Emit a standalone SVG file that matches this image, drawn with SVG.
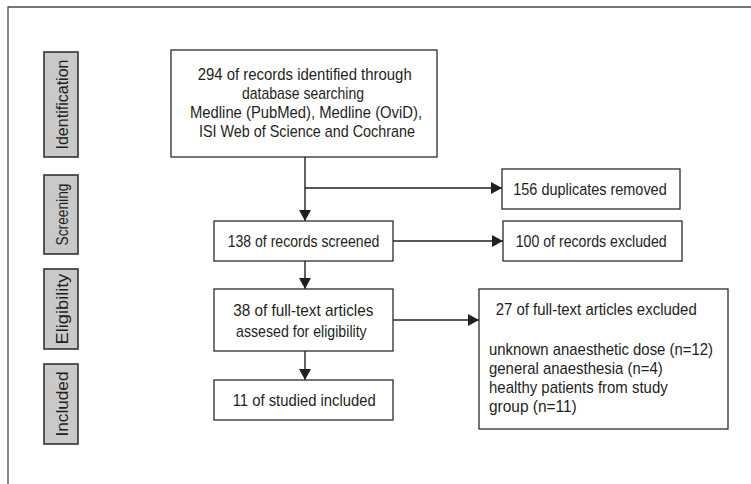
<svg xmlns="http://www.w3.org/2000/svg" width="751" height="484" viewBox="0 0 751 484">
<defs>
<style>
.frame{fill:none;stroke:#4a4a4a;stroke-width:1.3}
.box{fill:#fff;stroke:#2b2b2b;stroke-width:1.3}
.lab{fill:#c9c9c9;stroke:#333;stroke-width:1.6}
.t{font-family:"Liberation Sans",Arial,sans-serif;font-size:17px;fill:#231f20}
.c{fill:none;stroke:#231f20;stroke-width:1.4}
</style>
<marker id="ah" viewBox="0 0 11 12" refX="11" refY="6" markerWidth="11" markerHeight="12" markerUnits="userSpaceOnUse" orient="auto">
<path d="M0,0 L11,6 L0,12 z" fill="#231f20"/>
</marker>
</defs>
<rect width="751" height="484" fill="#fff"/>
<path class="frame" d="M8,484 V7 H751"/>

<g id="label-identification">
<rect class="lab" x="44" y="52" width="34" height="105"/>
<text class="t" transform="translate(68,104.5) rotate(-90)" x="-45" textLength="90" lengthAdjust="spacingAndGlyphs">Identification</text>
</g>
<g id="label-screening">
<rect class="lab" x="44" y="175" width="34" height="79"/>
<text class="t" transform="translate(68,214.5) rotate(-90)" x="-31" textLength="62" lengthAdjust="spacingAndGlyphs">Screening</text>
</g>
<g id="label-eligibility">
<rect class="lab" x="44" y="269" width="34" height="80"/>
<text class="t" transform="translate(68,309) rotate(-90)" x="-35.5" textLength="71" lengthAdjust="spacingAndGlyphs">Eligibility</text>
</g>
<g id="label-included">
<rect class="lab" x="44" y="364" width="34" height="80"/>
<text class="t" transform="translate(68,404) rotate(-90)" x="-32.5" textLength="65" lengthAdjust="spacingAndGlyphs">Included</text>
</g>

<g id="connectors">
<path class="c" d="M305,157 V221" marker-end="url(#ah)"/>
<path class="c" d="M305,188 H502" marker-end="url(#ah)"/>
<path class="c" d="M393,241 H503" marker-end="url(#ah)"/>
<path class="c" d="M305,261 V289" marker-end="url(#ah)"/>
<path class="c" d="M393,320 H479" marker-end="url(#ah)"/>
<path class="c" d="M305,351 V380" marker-end="url(#ah)"/>
</g>

<g id="node-identified">
<rect class="box" x="171" y="50" width="266" height="107"/>
<text class="t" x="197.7" y="80" textLength="214" lengthAdjust="spacingAndGlyphs">294 of records identified through</text>
<text class="t" x="242" y="99" textLength="122" lengthAdjust="spacingAndGlyphs">database searching</text>
<text class="t" x="190" y="118" textLength="232" lengthAdjust="spacingAndGlyphs">Medline (PubMed), Medline (OviD),</text>
<text class="t" x="199" y="137" textLength="216" lengthAdjust="spacingAndGlyphs">ISI Web of Science and Cochrane</text>
</g>
<g id="node-duplicates">
<rect class="box" x="502" y="169" width="178" height="40"/>
<text class="t" x="513.3" y="195" textLength="153.4" lengthAdjust="spacingAndGlyphs">156 duplicates removed</text>
</g>
<g id="node-screened">
<rect class="box" x="214" y="221" width="179" height="40"/>
<text class="t" x="227.7" y="247" textLength="151.6" lengthAdjust="spacingAndGlyphs">138 of records screened</text>
</g>
<g id="node-excluded">
<rect class="box" x="503" y="221" width="179" height="40"/>
<text class="t" x="515.7" y="247" textLength="151" lengthAdjust="spacingAndGlyphs">100 of records excluded</text>
</g>
<g id="node-fulltext">
<rect class="box" x="214" y="289" width="179" height="62"/>
<text class="t" x="233.3" y="315.5" textLength="140" lengthAdjust="spacingAndGlyphs">38 of full-text articles</text>
<text class="t" x="236" y="336.5" textLength="130.7" lengthAdjust="spacingAndGlyphs">assesed for eligibility</text>
</g>
<g id="node-fulltext-excluded">
<rect class="box" x="479" y="289" width="249" height="140"/>
<text class="t" x="495.7" y="315" textLength="201" lengthAdjust="spacingAndGlyphs">27 of full-text articles excluded</text>
<text class="t" x="489" y="355" textLength="224" lengthAdjust="spacingAndGlyphs">unknown anaesthetic dose (n=12)</text>
<text class="t" x="489" y="374" textLength="173.7" lengthAdjust="spacingAndGlyphs">general anaesthesia (n=4)</text>
<text class="t" x="489" y="393" textLength="178.7" lengthAdjust="spacingAndGlyphs">healthy patients from study</text>
<text class="t" x="489" y="412" textLength="87.7" lengthAdjust="spacingAndGlyphs">group (n=11)</text>
</g>
<g id="node-included">
<rect class="box" x="214" y="380" width="179" height="40"/>
<text class="t" x="232.7" y="406" textLength="143" lengthAdjust="spacingAndGlyphs">11 of studied included</text>
</g>
</svg>
